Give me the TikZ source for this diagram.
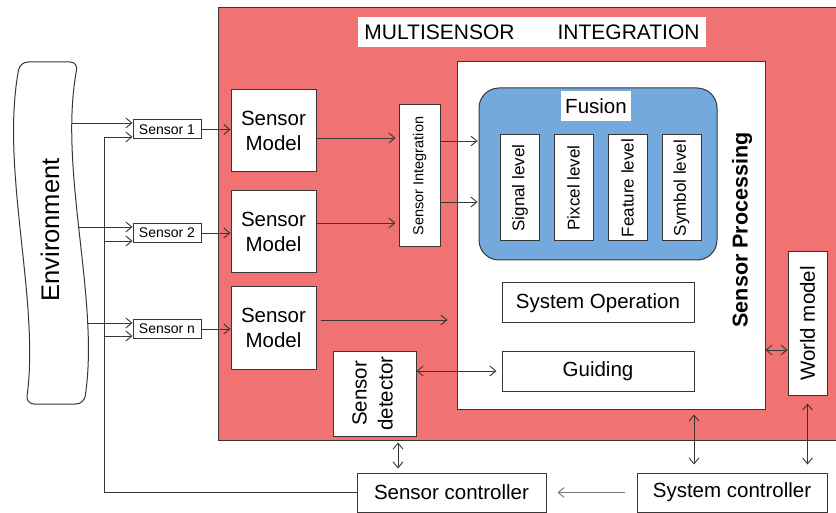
\documentclass[tikz,border=0pt]{standalone}
\usepackage{fontspec}
\usepackage{graphicx}
\setmainfont{Liberation Sans}
\usetikzlibrary{arrows.meta,calc}

\definecolor{framered}{RGB}{240,114,114}
\definecolor{fusionblue}{RGB}{116,169,221}
\definecolor{edge}{RGB}{55,55,55}
\definecolor{softgrey}{RGB}{120,120,120}

\newcommand\fsmain{\fontsize{20.5}{25}\selectfont}
\newcommand\fstitle{\fontsize{21}{25}\selectfont}
\newcommand\fssmall{\fontsize{14}{17}\selectfont}
\newcommand\fsinteg{\fontsize{14.5}{17}\selectfont}
\newcommand\fslevel{\fontsize{17}{20}\selectfont}
\newcommand\fsenv{\fontsize{25.5}{30}\selectfont}
\newcommand\fsbold{\fontsize{21.5}{25}\selectfont\bfseries}

\begin{document}
\begin{tikzpicture}[x=1pt,y=-1pt,
  box/.style={draw=edge, line width=1pt, fill=white, inner sep=0pt, align=center, font=\fsmain},
  arr/.style={draw=edge, line width=0.9pt, -{Straight Barb[length=6pt,width=10pt,line width=0.9pt]}},
  darr/.style={draw=edge, line width=0.9pt, {Straight Barb[length=6pt,width=10pt,line width=0.9pt]}-{Straight Barb[length=6pt,width=10pt,line width=0.9pt]}},
  wire/.style={draw=edge, line width=0.9pt}
]
\useasboundingbox (0,0) rectangle (836,513);
\fill[white] (0,0) rectangle (836,513);

% integration frame and its title
\draw[draw=edge, fill=framered, line width=1pt] (218,8) rectangle (845,440);
\node[fill=white, inner sep=0pt, minimum width=348pt, minimum height=30pt, font=\fstitle] (title) at (532,32) {MULTISENSOR\hspace{43pt}INTEGRATION};

% environment banner
\draw[draw=edge, line width=1pt, fill=white, rounded corners=8pt]
  (49,62) -- (78,62) .. controls (58,170) and (100,300) .. (84,404)
  -- (26,404) .. controls (40,300) and (0,170) .. (20,62) -- cycle;
\node[rotate=90, font=\fsenv] (env) at (50,230) {Environment};
\coordinate (e1) at (72,123);
\coordinate (e2) at (79,227);
\coordinate (e3) at (87,323);
\coordinate (bus) at (104,0);

% sensors
\node[box, font=\fssmall, minimum width=68pt, minimum height=19pt] (s1) at (167,129.5) {Sensor 1};
\node[box, font=\fssmall, minimum width=68pt, minimum height=19pt] (s2) at (167,233) {Sensor 2};
\node[box, font=\fssmall, minimum width=68pt, minimum height=19pt] (s3) at (167,329) {Sensor n};

% sensor models
\node[box, minimum width=85pt, minimum height=82pt] (sm1) at (273.5,131) {Sensor\\Model};
\node[box, minimum width=85pt, minimum height=82pt] (sm2) at (273.5,232) {Sensor\\Model};
\node[box, minimum width=85pt, minimum height=82pt] (sm3) at (273.5,328) {Sensor\\Model};

% sensor integration
\node[box, font=\fsinteg, minimum width=41pt, minimum height=142pt] (si) at (419.5,176) {\rotatebox{90}{Sensor Integration}};

% sensor processing block
\node[box, minimum width=308pt, minimum height=347pt] (sp) at (611,235.5) {};
\node[rotate=90, font=\fsbold] (splabel) at (742,230) {Sensor Processing};

% fusion group
\node[draw=edge, line width=1pt, fill=fusionblue, rounded corners=20pt, minimum width=238pt, minimum height=172pt] (fusion) at (598,174) {};
\node[fill=white, inner sep=0pt, minimum width=70pt, minimum height=30pt, font=\fsmain] (ftitle) at (596,106) {Fusion};
\node[box, font=\fslevel, minimum width=39pt, minimum height=106pt] (lsig) at (520,188) {\rotatebox{90}{Signal level}};
\node[box, font=\fslevel, minimum width=39pt, minimum height=106pt] (lpix) at (573.5,188) {\rotatebox{90}{Pixcel level}};
\node[box, font=\fslevel, minimum width=39pt, minimum height=106pt] (lfea) at (627.5,188) {\rotatebox{90}{Feature level}};
\node[box, font=\fslevel, minimum width=39pt, minimum height=106pt] (lsym) at (681.5,188) {\rotatebox{90}{Symbol level}};

\node[box, minimum width=192pt, minimum height=40pt] (sysop) at (598,303) {System Operation};
\node[box, minimum width=192pt, minimum height=40pt] (guiding) at (598,371) {Guiding};

% world model, detector, controllers
\node[box, minimum width=39pt, minimum height=143pt] (wm) at (807.5,323.5) {\rotatebox{90}{World model}};
\node[box, minimum width=83pt, minimum height=85pt] (sd) at (374.5,393.5)
  {\rotatebox{90}{\fontsize{20.5}{26}\selectfont\begin{tabular}{@{}c@{}}Sensor\\detector\end{tabular}}};
\node[box, minimum width=189pt, minimum height=39pt] (sc) at (451.5,492.5) {Sensor controller};
\node[box, minimum width=190pt, minimum height=39pt] (sysc) at (732,492.5) {System controller};

% environment and controller feedback into the sensors
\coordinate (b1) at ($(s1.west)+(0,7.5)$);
\coordinate (b2) at ($(s2.west)+(0,8)$);
\coordinate (b3) at ($(s3.west)+(0,7)$);
\draw[wire] (sc.west) -| (b1 -| bus);
\draw[arr] (b1 -| bus) -- (b1);
\draw[arr] (b2 -| bus) -- (b2);
\draw[arr] (b3 -| bus) -- (b3);
\draw[arr] (e1) -- (e1 -| s1.west);
\draw[arr] (e2) -- (e2 -| s2.west);
\draw[arr] (e3) -- (e3 -| s3.west);

% sensors to models
\draw[arr] (s1.east) -- (s1.east -| sm1.west);
\draw[arr] (s2.east) -- (s2.east -| sm2.west);
\draw[arr] (s3.east) -- (s3.east -| sm3.west);

% models to integration / processing
\draw[arr, shorten >=3pt] (sm1.east |- 0,138) -- (si.west |- 0,138);
\draw[arr, shorten >=3pt] (sm2.east |- 0,223) -- (si.west |- 0,223);
\draw[arr, shorten <=4pt, shorten >=9pt] (sm3.east |- 0,320) -- (sp.west |- 0,320);
\draw[arr, shorten >=1pt] (si.east |- 0,141) -- (fusion.west |- 0,141);
\draw[arr, shorten >=1pt] (si.east |- 0,202) -- (fusion.west |- 0,202);

% bidirectional links
\draw[darr] (sp.east |- 0,350) -- (wm.west |- 0,350);
\draw[darr, shorten >=5pt] (sd.east |- 0,371) -- (guiding.west |- 0,371);
\draw[darr, shorten <=5pt, shorten >=8pt] (sp.south -| 694,0) -- (sysc.north -| 694,0);
\draw[darr, shorten <=8pt, shorten >=8pt] (wm.south) -- (wm.south |- sysc.north);
\draw[darr, shorten <=6pt, shorten >=4pt] (sd.south -| 398,0) -- (sc.north -| 398,0);

% system controller drives sensor controller
\draw[arr, draw=softgrey, shorten <=12pt, shorten >=11pt] (sysc.west) -- (sc.east);
\end{tikzpicture}
\end{document}
